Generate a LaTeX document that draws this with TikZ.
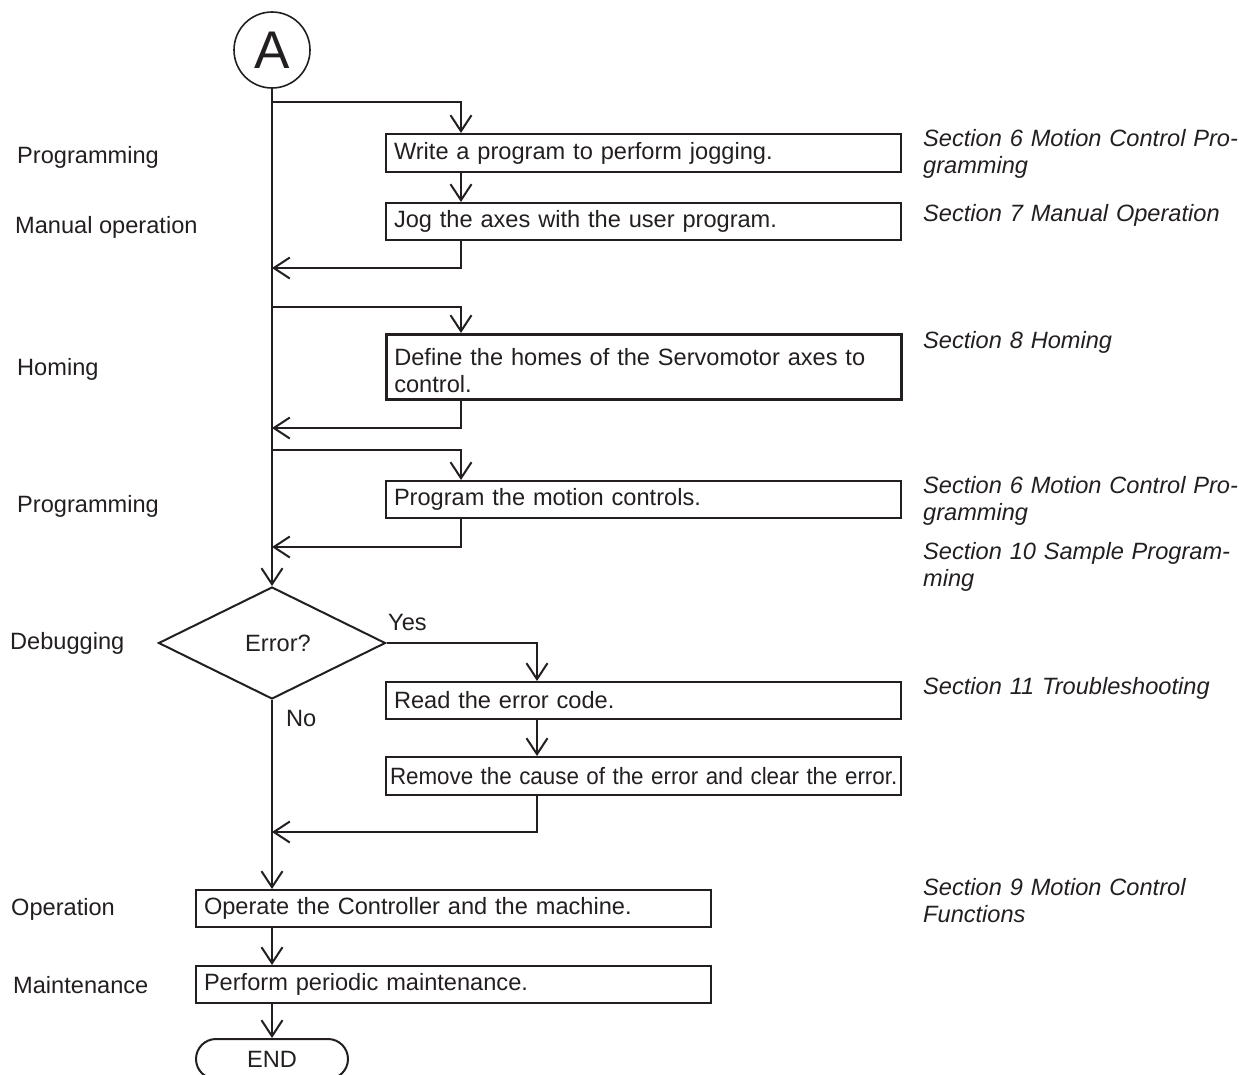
\documentclass[tikz,border=0pt]{standalone}
\usepackage{fontspec}
\setmainfont{Liberation Sans}
\usetikzlibrary{arrows.meta,shapes.geometric,shapes.misc}
\definecolor{ink}{RGB}{35,31,32}
\newcommand{\fsz}{\fontsize{23.6pt}{27pt}\selectfont}
\begin{document}
\begin{tikzpicture}[x=1pt,y=-1pt,
  every node/.style={text=ink},
  line/.style={draw=ink, line width=2pt},
  arr/.style={line, -{Straight Barb[length=16pt,width=21pt]}},
  box/.style={draw=ink, line width=2pt, anchor=north west, inner xsep=8pt, inner ysep=0pt,
              text width=499pt, minimum height=#1, align=left, font=\fsz},
  lab/.style={anchor=base west, inner sep=0pt, font=\fsz},
  sec/.style={anchor=base west, inner sep=0pt, text width=345pt, align=left,
              font=\fsz\itshape}]
\useasboundingbox (0,0) rectangle (1239,1074);

% connector circle
\node[circle, draw=ink, line width=1.6pt, minimum size=76pt, inner sep=0pt,
      font=\fontsize{53pt}{53pt}\selectfont] (A) at (272,50) {A};

% boxes
\node[box=38pt] (b1) at (385,133) {Write a program to perform jogging.};
\node[box=37pt] (b2) at (385,202) {Jog the axes with the user program.};
\node[box=65pt, line width=2.6pt] (b3) at (385,333)
      {\rule{0pt}{25.5pt}Define the homes of the Servomotor axes to control.};
\node[box=37pt] (b4) at (385,480) {Program the motion controls.};
\node[diamond, draw=ink, line width=2pt, minimum width=227pt, minimum height=112pt, inner sep=0pt,
      font=\fsz] (dia) at (272,643) {\hspace*{12pt}\raisebox{-8pt}{Error?}};
\node[box=37pt] (b5) at (385,681) {Read the error code.};
\node[box=38pt, inner xsep=4pt, text width=507pt] (b6) at (385,756)
      {\scalebox{0.948}[1]{Remove the cause of the error and clear the error.}};
\node[box=37pt] (b7) at (195,889) {Operate the Controller and the machine.};
\node[box=37pt] (b8) at (195,965) {Perform periodic maintenance.};
\node[rounded rectangle, draw=ink, line width=2pt, minimum width=152pt, minimum height=40pt,
      inner sep=0pt, font=\fsz] (end) at (272,1059) {END};

% junction / return points on the main line
\coordinate (j1) at (272,102);
\coordinate (r1) at (272,268);
\coordinate (j2) at (272,307);
\coordinate (r2) at (272,428);
\coordinate (j3) at (272,450);
\coordinate (r3) at (272,547);
\coordinate (r4) at (272,832);

% main line
\draw[arr] (A) -- (dia);
\draw[arr] (dia.south) -- (dia.south |- b7.north);
\draw[arr] (dia.south |- b7.south) -- (dia.south |- b8.north);
\draw[arr] (dia.south |- b8.south) -- (end.north);

% branch 1
\draw[arr] (j1) -| ([xshift=76pt]b1.north west);
\draw[arr] ([xshift=76pt]b1.south west) -- ([xshift=76pt]b2.north west);
\draw[arr] ([xshift=76pt]b2.south west) |- (r1);
% branch 2
\draw[arr] (j2) -| ([xshift=76pt]b3.north west);
\draw[arr] ([xshift=76pt]b3.south west) |- (r2);
% branch 3
\draw[arr] (j3) -| ([xshift=76pt]b4.north west);
\draw[arr] ([xshift=76pt]b4.south west) |- (r3);
% error branch
\draw[arr] (dia.east) -| ([xshift=152pt]b5.north west);
\draw[arr] ([xshift=152pt]b5.south west) -- ([xshift=152pt]b6.north west);
\draw[arr] ([xshift=152pt]b6.south west) |- (r4);

\node[lab] (yes) at (388,630) {Yes};
\node[lab] (no) at (286,726) {No};

% left labels
\node[lab] (l1) at (17,163) {Programming};
\node[lab] (l2) at (15,233) {Manual operation};
\node[lab] (l3) at (17,375) {Homing};
\node[lab] (l4) at (17,512) {Programming};
\node[lab] (l5) at (10,649) {Debugging};
\node[lab] (l6) at (11,915) {Operation};
\node[lab] (l7) at (13,993) {Maintenance};

% right labels
\node[sec] (s1) at (923,146) {Section 6 Motion Control Pro-\\gramming};
\node[sec] (s2) at (923,221) {Section 7 Manual Operation};
\node[sec] (s3) at (923,348) {Section 8 Homing};
\node[sec] (s4) at (923,493) {Section 6 Motion Control Pro-\\gramming};
\node[sec] (s5) at (923,559) {Section 10 Sample Program-\\ming};
\node[sec] (s6) at (923,694) {Section 11 Troubleshooting};
\node[sec] (s7) at (923,895) {Section 9 Motion Control\\Functions};
\end{tikzpicture}
\end{document}
